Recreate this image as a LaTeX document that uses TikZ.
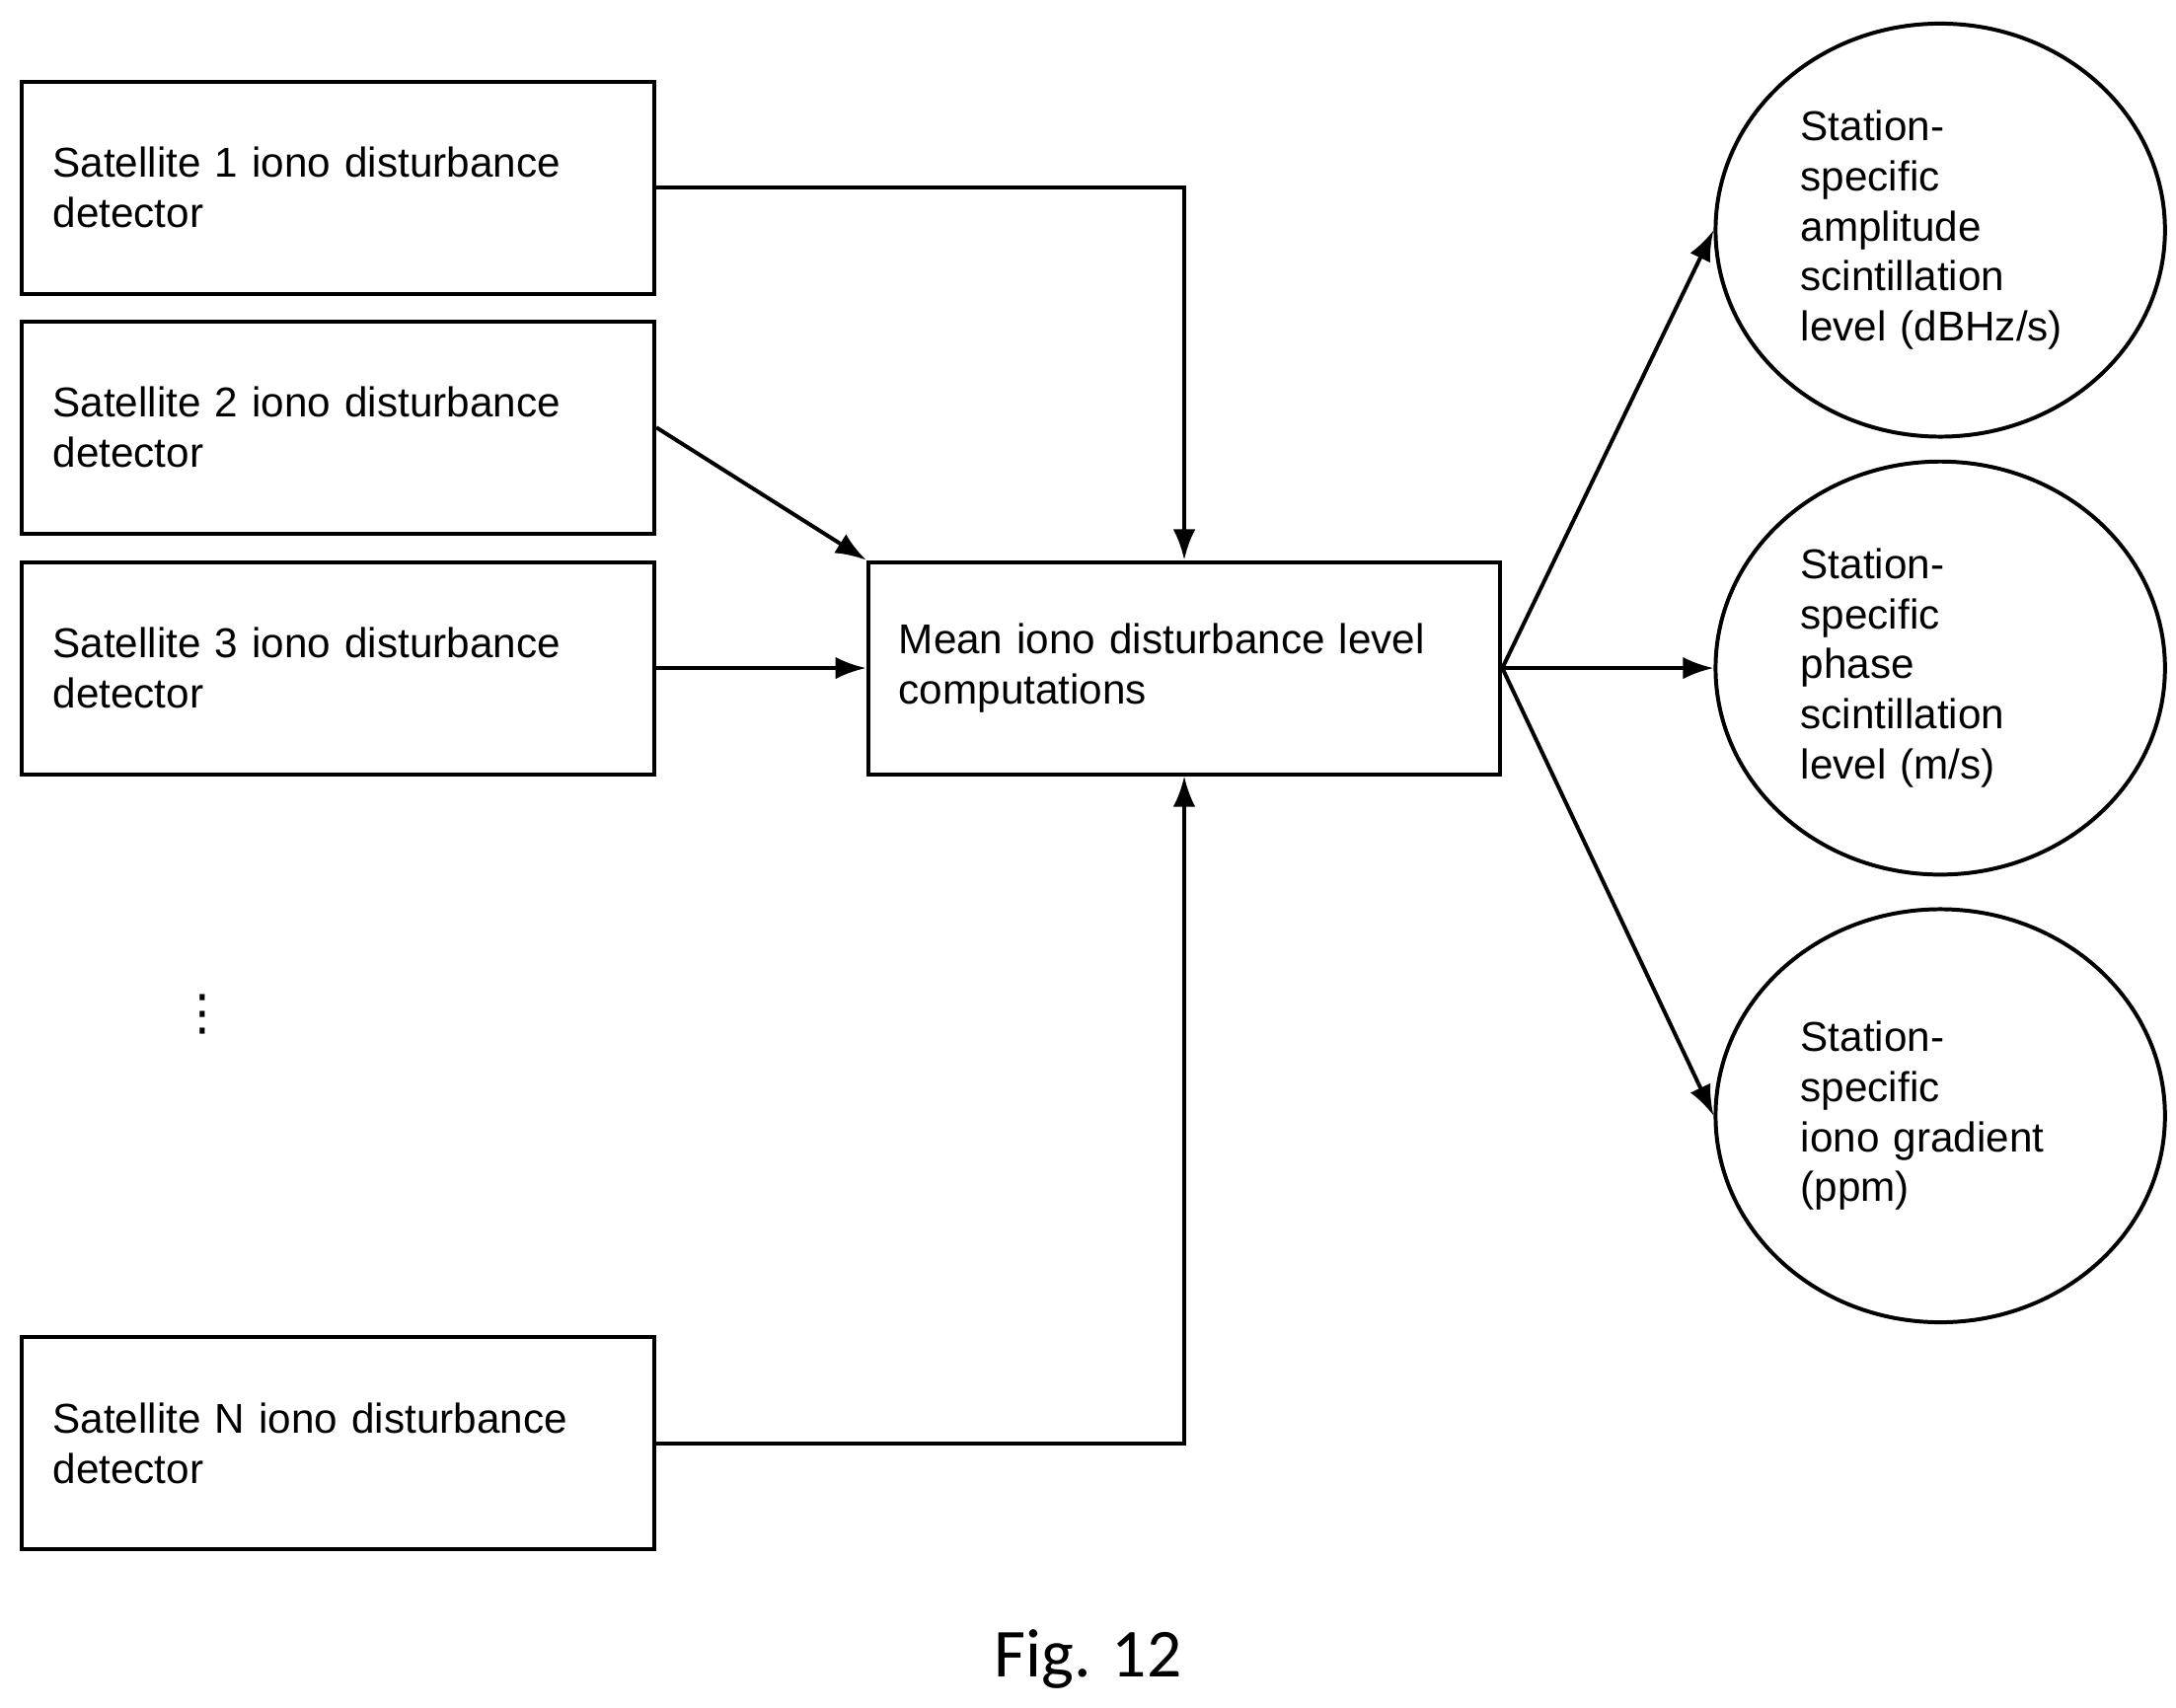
\documentclass[tikz,border=0pt]{standalone}
\usepackage{fontspec}
\setmainfont{Liberation Sans}
\newfontfamily\capfont{Carlito}
\newfontfamily\symfont{DejaVu Sans}
\usetikzlibrary{positioning,arrows.meta,shapes.geometric}

\begin{document}
\begin{tikzpicture}[
    x=0.01cm, y=-0.01cm,
    block/.style={
        draw, line width=0.8pt, minimum width=4.53cm, minimum height=1.52cm,
        inner xsep=0.22cm, text width=4.09cm, align=left,
        font=\fontsize{8.5pt}{10.2pt}\selectfont
    },
    result/.style={
        ellipse, draw, line width=0.8pt, minimum width=3.22cm, minimum height=2.96cm,
        inner sep=0pt, text width=2.0cm, align=left,
        font=\fontsize{8.5pt}{10.2pt}\selectfont
    },
    link/.style={draw, line width=0.8pt, -{Latex[length=2.2mm,width=1.6mm]}}
]
\useasboundingbox (0,0) rectangle (1560,1224);

% Satellite detectors
\node[block] (sat1) at (242.5,134.5) {Satellite 1 iono disturbance detector};
\node[block] (sat2) at (242.5,306.5) {Satellite 2 iono disturbance detector};
\node[block] (sat3) at (242.5,479) {Satellite 3 iono disturbance detector};
\node[block] (satN) at (242.5,1035) {Satellite N iono disturbance detector};
\node[inner sep=0pt, font=\symfont\fontsize{10pt}{12pt}\selectfont] (dots) at (145,727) {⋮};

% Mean computation
\node[block] (mean) at (849,479) {Mean iono disturbance level computations};

% Outputs
\node[result] (amp) at (1391,165) {Station-\\specific\\amplitude\\scintillation\\level (dBHz/s)};
\node[result] (phase) at (1391,479) {Station-\\specific\\phase\\scintillation\\level (m/s)};
\node[result] (grad) at (1391,800) {Station-\\specific\\iono gradient\\(ppm)};

% Connectors
\draw[link] (sat1.east) -| (mean.north);
\draw[link] (sat2.east) -- (mean.north west);
\draw[link] (sat3.east) -- (mean.west);
\draw[link] (satN.east) -| (mean.south);
\foreach \to in {amp,phase,grad}
{
    \draw[link] (mean.east) -- (\to.west);
}

\node[font=\capfont\fontsize{14pt}{17pt}\selectfont] (cap) at (780,1190) {Fig. 12};
\end{tikzpicture}
\end{document}
